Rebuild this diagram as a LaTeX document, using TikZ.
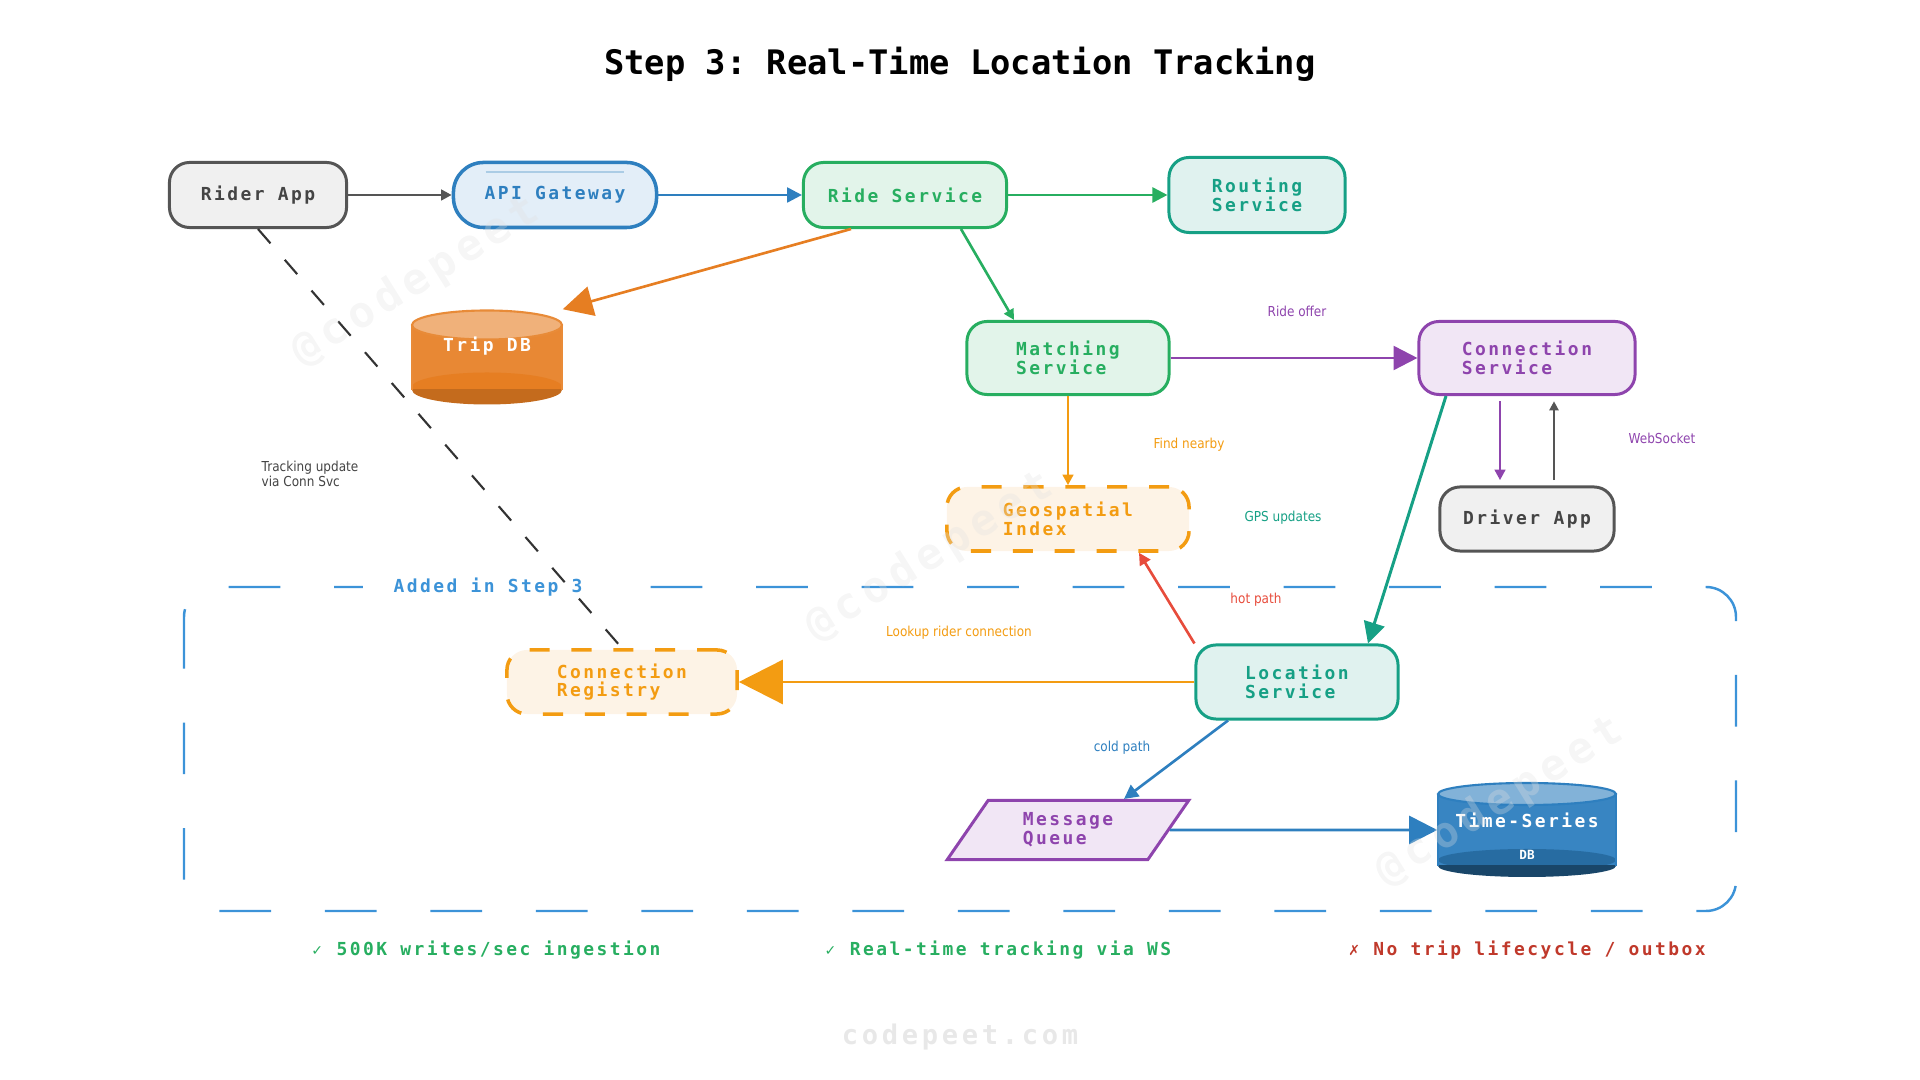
\documentclass[tikz,border=0pt]{standalone}
\usepackage{fontspec}
\setmainfont{DejaVu Sans}
\newfontfamily\monofont{DejaVu Sans Mono}
\newfontfamily\spacedmono[LetterSpace=13.7]{DejaVu Sans Mono}
\newfontfamily\labelfont[FakeStretch=0.88]{DejaVu Sans}
\newfontfamily\symfont{DejaVu Sans}
\usetikzlibrary{arrows.meta,shapes.geometric,calc}
\frenchspacing

\definecolor{cgray}{HTML}{555555}
\definecolor{cgraytext}{HTML}{444444}
\definecolor{cgrayfill}{HTML}{F0F0F0}
\definecolor{cblue}{HTML}{2E7FBF}
\definecolor{cbluefill}{HTML}{E3EEF8}
\definecolor{cgreen}{HTML}{27AE60}
\definecolor{cgreenfill}{HTML}{E2F4EA}
\definecolor{cteal}{HTML}{16A085}
\definecolor{ctealfill}{HTML}{E0F2EF}
\definecolor{cpurple}{HTML}{8E44AD}
\definecolor{cpurplefill}{HTML}{F1E6F5}
\definecolor{corange}{HTML}{F39C12}
\definecolor{corangefill}{HTML}{FDF3E6}
\definecolor{cdborange}{HTML}{E67E22}
\definecolor{cred}{HTML}{E74C3C}
\definecolor{cdarkred}{HTML}{C0392B}
\definecolor{cregion}{HTML}{3C93D8}

\begin{document}
\begin{tikzpicture}[x=0.01cm, y=-0.01cm, font=\labelfont,
  box/.style={draw, line width=0.85pt, rounded corners=0.2cm, minimum height=0.65cm, inner sep=0pt, align=left, font=\spacedmono\bfseries\fontsize{5.1}{5.3}\selectfont},
  client/.style={box, draw=cgray, fill=cgrayfill, text=cgraytext},
  gatewaybox/.style={box, draw=cblue, fill=cbluefill, text=cblue, rounded corners=0.3cm, line width=1pt},
  greenbox/.style={box, draw=cgreen, fill=cgreenfill, text=cgreen},
  tealbox/.style={box, draw=cteal, fill=ctealfill, text=cteal},
  purplebox/.style={box, draw=cpurple, fill=cpurplefill, text=cpurple},
  storebox/.style={box, draw=corange, fill=corangefill, text=corange, line width=1pt, dash pattern=on 5.7pt off 6.2pt},
  queuebox/.style={trapezium, trapezium left angle=56, trapezium right angle=124, trapezium stretches=true, draw=cpurple, fill=cpurplefill, text=cpurple, line width=0.85pt, inner sep=0pt, align=left, font=\spacedmono\bfseries\fontsize{5.1}{5.3}\selectfont},
  dbtext/.style={text=white, inner sep=0pt, font=\spacedmono\bfseries\fontsize{5.1}{5.3}\selectfont},
  lbl/.style={inner sep=0pt, font=\labelfont\fontsize{3.9}{4.1}\selectfont},
  note/.style={inner sep=0pt, font=\spacedmono\bfseries\fontsize{5.1}{5.3}\selectfont},
  watermark/.style={font=\spacedmono\bfseries\fontsize{12.3}{13}\selectfont, text={rgb,255:red,224;green,224;blue,224}, opacity=0.3, rotate=32},
  link/.style={line width=0.75pt},
  arr/.style={-{Triangle[length=#1,width=#1]}}
]

\useasboundingbox (0,0) rectangle (1920,1080);

\node[font=\monofont\bfseries\fontsize{9.6}{11}\selectfont] (title) at (960,64) {Step 3: Real-Time Location Tracking};

\draw[cregion, line width=0.7pt, rounded corners=0.3cm, dash pattern=on 14.7pt off 15.3pt] (184,587) rectangle (1736,911);
\node[note, text=cregion, fill=white, inner xsep=0.3cm, inner ysep=0.05cm] (added) at (488,587) {Added in Step 3};

\node[client, minimum width=1.77cm] (rider) at (258,195) {Rider App};
\node[gatewaybox, minimum width=2.03cm] (gateway) at (555,195) {API Gateway};
\draw[cblue!40, line width=0.6pt] ($(gateway.north west)+(34,11)$) -- ($(gateway.north east)+(-34,11)$);
\node[greenbox, minimum width=2.03cm] (ride) at (905,195) {Ride Service};
\node[tealbox, minimum width=1.76cm, minimum height=0.75cm] (routing) at (1257,195) {Routing\\Service};
\node[greenbox, minimum width=2.02cm, minimum height=0.73cm] (matching) at (1068,358) {Matching\\Service};
\node[purplebox, minimum width=2.16cm, minimum height=0.73cm] (connsvc) at (1527,358) {Connection\\Service};
\node[storebox, minimum width=2.42cm, minimum height=0.64cm] (geo) at (1068,519) {Geospatial\\Index};
\node[client, minimum width=1.74cm, minimum height=0.64cm] (driver) at (1527,519) {Driver App};
\node[storebox, minimum width=2.30cm, minimum height=0.64cm] (registry) at (622,682) {Connection\\Registry};
\node[tealbox, minimum width=2.02cm, minimum height=0.74cm] (location) at (1297,682) {Location\\Service};
\node[queuebox, minimum width=2.42cm, minimum height=0.59cm] (mq) at (1068,830) {Message\\Queue};

\fill[cdborange!92!white] (412,325) rectangle (562,390);
\fill[cdborange] (487,387) ellipse[x radius=75, y radius=14.5];
\begin{scope}
\clip (400,390) rectangle (575,410);
\fill[cdborange!85!black] (487,390) ellipse[x radius=75, y radius=14.5];
\end{scope}
\fill[cdborange!60!white, draw=cdborange!90!white, line width=0.6pt] (487,325) ellipse[x radius=75, y radius=14.5];
\draw[cdborange!90!white, line width=0.6pt] (412,325) -- (412,390) (562,325) -- (562,390);
\node[inner sep=0pt, minimum width=1.50cm, minimum height=0.95cm] (tripdb) at (487,357.5) {};
\node[dbtext] (tripdblabel) at (487,346) {Trip DB};

\fill[cblue!95!white] (1438,794) rectangle (1616,866);
\fill[cblue!85!black] (1527,860) ellipse[x radius=89, y radius=11];
\begin{scope}
\clip (1420,866) rectangle (1630,890);
\fill[cblue!55!black] (1527,866) ellipse[x radius=89, y radius=11];
\end{scope}
\fill[cblue!60!white, draw=cblue, line width=0.6pt] (1527,794) ellipse[x radius=89, y radius=11];
\draw[cblue, line width=0.6pt] (1438,794) -- (1438,866) (1616,794) -- (1616,866);
\node[inner sep=0pt, minimum width=1.78cm, minimum height=0.94cm] (tsdb) at (1527,830) {};
\node[dbtext] (tsdblabel) at (1527,820) {Time-Series};
\node[dbtext, font=\monofont\bfseries\fontsize{3.6}{4}\selectfont] (tsdbsub) at (1527,855) {DB};

\draw[link, cgray, arr=3pt] (rider) -- (gateway);
\draw[link, cblue, arr=4.2pt] (gateway) -- (ride);
\draw[link, cgreen, arr=4.3pt] (ride) -- (routing);
\draw[link, cdborange, arr=8.5pt] ($(ride.south)+(-54,0)$) -- (tripdb.north east);
\draw[link, cgreen, arr=3pt] ($(ride.south)+(56,0)$) -- ($(matching.north)+(-54,0)$);
\draw[link, cpurple, arr=6.8pt] (matching) -- (connsvc);
\draw[link, corange, arr=3pt] (matching) -- (geo);
\draw[link, cpurple, arr=3pt, shorten <=1.5pt, shorten >=1.5pt] ($(connsvc.south)+(-27,0)$) -- ($(driver.north)+(-27,0)$);
\draw[link, cgray, arr=2.6pt, shorten <=1.5pt, shorten >=1.5pt] ($(driver.north)+(27,0)$) -- ($(connsvc.south)+(27,0)$);
\draw[link, cteal, line width=0.85pt, arr=6pt] ($(connsvc.south)+(-81,0)$) -- ($(location.north)+(71,0)$);
\draw[link, cred, arr=3.4pt] (location.north west) -- ($(geo.south)+(71,0)$);
\draw[link, corange, arr=12.5pt] (location) -- (registry);
\draw[link, cblue, arr=4pt] ($(location.south)+(-69,0)$) -- ($(mq.north)+(56,0)$);
\draw[link, cblue, arr=8pt] (mq) -- (tsdb);
\draw[line width=0.6pt, black!80, dash pattern=on 5.4pt off 6.2pt] (rider.south) -- (registry.north);

\node[lbl, text=cpurple] (rideoffer) at (1297,311) {Ride offer};
\node[lbl, text=corange] (findnearby) at (1189,445) {Find nearby};
\node[lbl, text=cpurple] (websocket) at (1662,438) {WebSocket};
\node[lbl, text=cteal] (gpsupdates) at (1283,518) {GPS updates};
\node[lbl, text=cred] (hotpath) at (1256,600) {hot path};
\node[lbl, text=corange] (lookup) at (959,633) {Lookup rider connection};
\node[lbl, text=cblue] (coldpath) at (1122,748) {cold path};
\node[lbl, text=cgraytext, align=left, anchor=west] (tracking) at (261,474) {Tracking update\\via Conn Svc};

\node[note, text=cgreen] (writes) at (486,950) {{\symfont\fontsize{4}{5}\selectfont ✓} 500K writes/sec ingestion};
\node[note, text=cgreen] (realtime) at (998,950) {{\symfont\fontsize{4}{5}\selectfont ✓} Real-time tracking via WS};
\node[note, text=cdarkred] (lifecycle) at (1527,950) {{\symfont\fontsize{4}{5}\selectfont ✗} No trip lifecycle / outbox};

\node[font=\spacedmono\bfseries\fontsize{7.7}{9}\selectfont, text=black!9] (site) at (960,1037) {codepeet.com};

\node[watermark] (mark1) at (416,282) {@codepeet};
\node[watermark] (mark2) at (930,557) {@codepeet};
\node[watermark] (mark3) at (1500,802) {@codepeet};

\end{tikzpicture}
\end{document}
